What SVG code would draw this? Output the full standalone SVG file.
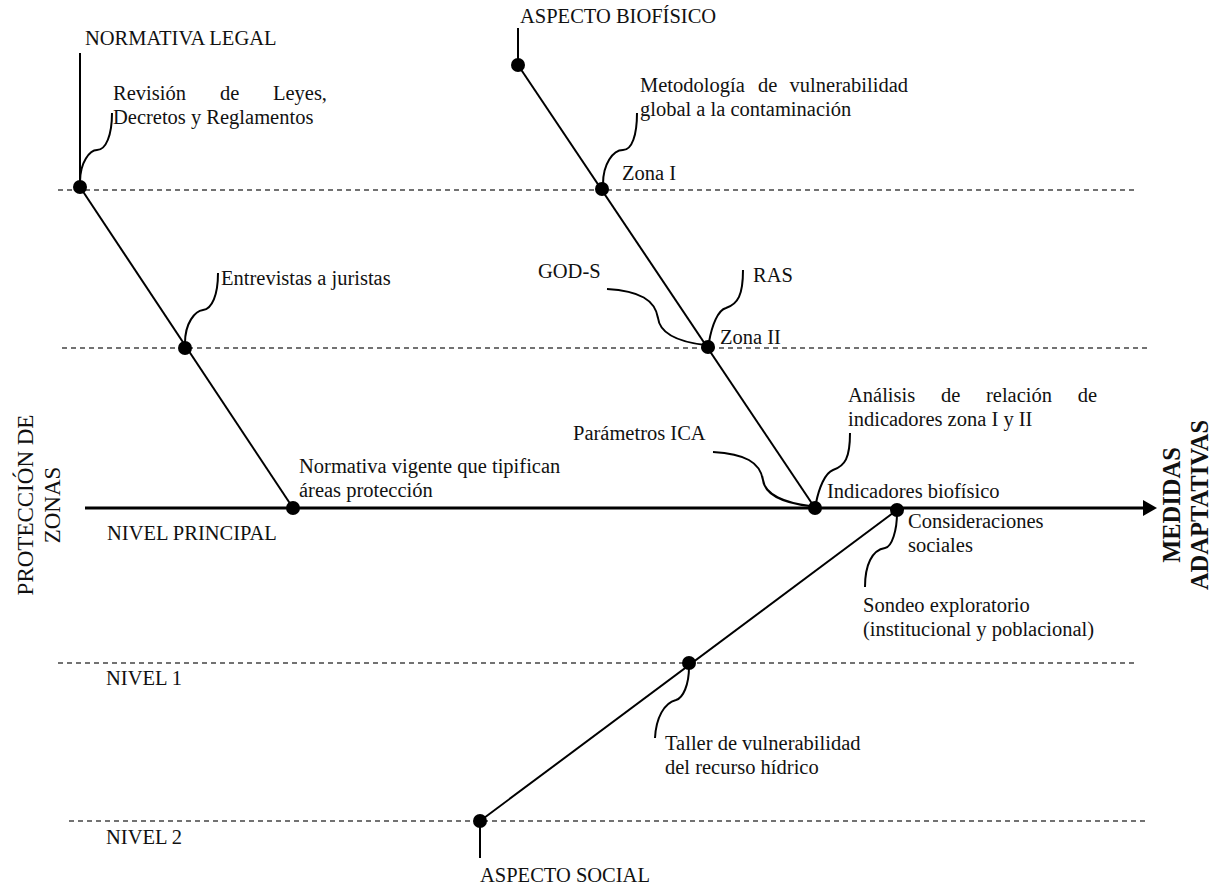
<svg xmlns="http://www.w3.org/2000/svg" width="1223" height="890" viewBox="0 0 1223 890">
<style>
text{font-family:"Liberation Serif","Times New Roman",serif;font-size:20.5px;fill:#111}
.big{font-size:23px}
.bold{font-size:24.5px;font-weight:bold}
.dash{stroke:#444;stroke-width:1.4;stroke-dasharray:5 4;fill:none}
.br{stroke:#000;stroke-width:2;fill:none}
.cv{stroke:#000;stroke-width:2;fill:none}
.dot{fill:#000}
</style>
<defs>
<marker id="ah" markerWidth="14" markerHeight="16" refX="0" refY="8" orient="auto" markerUnits="userSpaceOnUse">
<path d="M0,0 L14,8 L0,16 Z" fill="#000"/>
</marker>
</defs>
<rect width="1223" height="890" fill="#fff"/>
<g id="levels">
<line class="dash" x1="58" y1="190" x2="1135" y2="190"/>
<line class="dash" x1="62" y1="348" x2="1147" y2="348"/>
<line class="dash" x1="58" y1="663" x2="1137" y2="663"/>
<line class="dash" x1="69" y1="821" x2="1147" y2="821"/>
</g>
<g id="connectors">
<line x1="85" y1="508" x2="1143" y2="508" stroke="#000" stroke-width="3" marker-end="url(#ah)"/>
<line class="br" x1="80" y1="53" x2="80" y2="187"/>
<line class="br" x1="80" y1="187" x2="293" y2="508"/>
<line class="br" x1="518" y1="28" x2="518" y2="65"/>
<line class="br" x1="518" y1="65" x2="815" y2="508"/>
<line class="br" x1="897" y1="510" x2="480" y2="821"/>
<line class="br" x1="480" y1="821" x2="480" y2="858"/>
<path class="cv" d="M80,182 C80,162 90,150 97,150 C106,150 112,135 112,113"/>
<path class="cv" d="M185,343 C185,323 195,311 203,310 C212,309 218,295 218,273"/>
<path class="cv" d="M603,184 C603,164 613,150 623,150 C632,150 637,135 637,113"/>
<path class="cv" d="M705,345 C680,342 660,335 658,318 C655,300 640,291 607,289"/>
<path class="cv" d="M709,342 C712,325 718,310 726,308 C738,304 743,295 743,270"/>
<path class="cv" d="M810,506 C785,503 765,495 763,480 C760,462 745,454 713,452"/>
<path class="cv" d="M816,503 C819,488 825,473 833,470 C845,466 850,458 850,433"/>
<path class="cv" d="M897,513 C897,530 892,547 885,548 C872,550 865,565 865,587"/>
<path class="cv" d="M689,667 C689,685 683,698 676,700 C664,703 656,718 655,738"/>
</g>
<g id="dots">
<circle class="dot" cx="80" cy="187" r="7"/>
<circle class="dot" cx="185" cy="348" r="7"/>
<circle class="dot" cx="293" cy="508" r="7"/>
<circle class="dot" cx="518" cy="65" r="7"/>
<circle class="dot" cx="602" cy="189" r="7"/>
<circle class="dot" cx="708" cy="347" r="7"/>
<circle class="dot" cx="815" cy="508" r="7"/>
<circle class="dot" cx="897" cy="510" r="7"/>
<circle class="dot" cx="689" cy="663" r="7"/>
<circle class="dot" cx="480" cy="821" r="7"/>
</g>
<g id="normativa-legal"><text x="85" y="45">NORMATIVA LEGAL</text></g>
<g id="revision"><text x="113" y="100">Revisión</text><text x="220" y="100">de</text><text x="327" y="100" text-anchor="end">Leyes,</text><text x="113" y="124">Decretos y Reglamentos</text></g>
<g id="entrevistas"><text x="221" y="285">Entrevistas a juristas</text></g>
<g id="normativa-vigente"><text x="299" y="473">Normativa vigente que tipifican</text><text x="299" y="497">áreas protección</text></g>
<g id="nivel-principal"><text x="107" y="540">NIVEL PRINCIPAL</text></g>
<g id="nivel-1"><text x="106" y="685">NIVEL 1</text></g>
<g id="nivel-2"><text x="106" y="844">NIVEL 2</text></g>
<g id="proteccion"><text class="big" transform="translate(33,505) rotate(-90)" text-anchor="middle">PROTECCIÓN DE</text><text class="big" transform="translate(60,505) rotate(-90)" text-anchor="middle">ZONAS</text></g>
<g id="medidas"><text class="bold" transform="translate(1180,505) rotate(-90)" text-anchor="middle">MEDIDAS</text><text class="bold" transform="translate(1208,505) rotate(-90)" text-anchor="middle">ADAPTATIVAS</text></g>
<g id="aspecto-biofisico"><text x="520" y="23">ASPECTO BIOFÍSICO</text></g>
<g id="metodologia"><text x="640" y="92">Metodología</text><text x="758" y="92">de</text><text x="908" y="92" text-anchor="end">vulnerabilidad</text><text x="640" y="116">global a la contaminación</text></g>
<g id="zona-1"><text x="622" y="180">Zona I</text></g>
<g id="god-s"><text x="538" y="278">GOD-S</text></g>
<g id="ras"><text x="753" y="282">RAS</text></g>
<g id="zona-2"><text x="720" y="344">Zona II</text></g>
<g id="parametros"><text x="573" y="440">Parámetros ICA</text></g>
<g id="analisis"><text x="848" y="402">Análisis</text><text x="941" y="402">de</text><text x="986" y="402">relación</text><text x="1097" y="402" text-anchor="end">de</text><text x="848" y="426">indicadores zona I y II</text></g>
<g id="indicadores"><text x="827" y="498">Indicadores biofísico</text></g>
<g id="consideraciones"><text x="908" y="528">Consideraciones</text><text x="908" y="552">sociales</text></g>
<g id="sondeo"><text x="863" y="612">Sondeo exploratorio</text><text x="863" y="636">(institucional y poblacional)</text></g>
<g id="taller"><text x="665" y="750">Taller de vulnerabilidad</text><text x="665" y="774">del recurso hídrico</text></g>
<g id="aspecto-social"><text x="480" y="882">ASPECTO SOCIAL</text></g>
</svg>
